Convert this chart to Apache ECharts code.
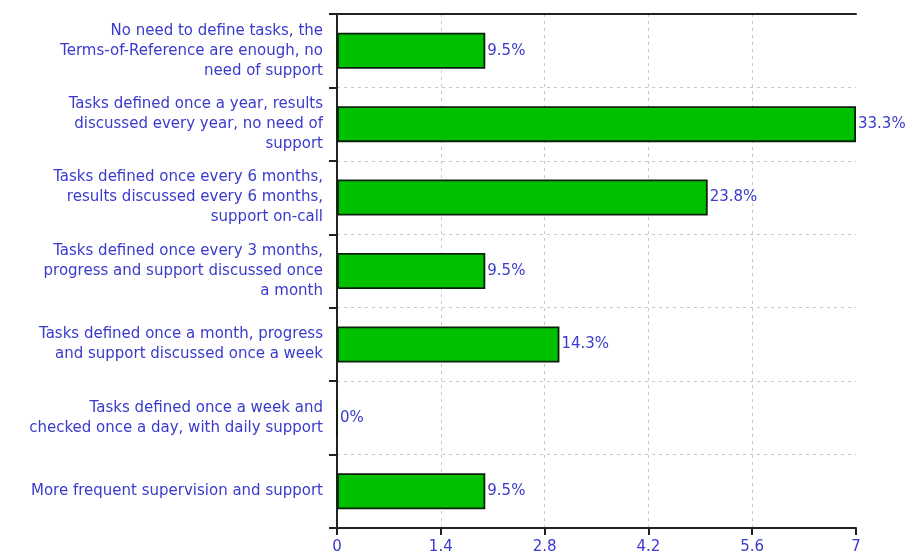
<!DOCTYPE html>
<html>
<head>
<meta charset="utf-8">
<script src="https://cdn.jsdelivr.net/npm/echarts@6/dist/echarts.min.js"></script>
<style>html,body{margin:0;padding:0;background:#fff;}#c{width:910px;height:557px;}</style>
</head>
<body>
<div id="c"></div>
<script>
const categories = [
  "No need to define tasks, the\nTerms-of-Reference are enough, no\nneed of support",
  "Tasks defined once a year, results\ndiscussed every year, no need of\nsupport",
  "Tasks defined once every 6 months,\nresults discussed every 6 months,\nsupport on-call",
  "Tasks defined once every 3 months,\nprogress and support discussed once\na month",
  "Tasks defined once a month, progress\nand support discussed once a week",
  "Tasks defined once a week and\nchecked once a day, with daily support",
  "More frequent supervision and support"
];
const counts = [2, 7, 5, 2, 3, 0, 2];
const percentLabels = ["9.5%", "33.3%", "23.8%", "9.5%", "14.3%", "0%", "9.5%"];
const xTicks = [0, 1.4, 2.8, 4.2, 5.6, 7];

const FONT = "DejaVu Sans";
const BLUE = "#3a3acc";
const chart = echarts.init(document.getElementById('c'));
chart.setOption({
  animation: false,
  backgroundColor: '#fff',
  grid: { left: 337, right: 54, top: 14, bottom: 29 },
  xAxis: [{
    type: 'value', min: xTicks[0], max: xTicks[xTicks.length - 1], interval: 1.4,
    axisLine: { show: true, lineStyle: { color: '#222', width: 2 } },
    axisTick: { show: true, length: 7, lineStyle: { color: '#222', width: 2 } },
    axisLabel: { color: BLUE, fontFamily: FONT, fontSize: 15, margin: 12,
      formatter: v => { const t = xTicks.find(x => Math.abs(x - v) < 1e-6); return t === undefined ? '' : String(t); } },
    splitLine: { show: true, showMinLine: false, showMaxLine: false, lineStyle: { color: '#c8c8c8', type: [3, 4], width: 1 } }
  }, {
    type: 'value', position: 'top', min: xTicks[0], max: xTicks[xTicks.length - 1], interval: 1.4,
    axisLine: { show: true, lineStyle: { color: '#222', width: 2 } },
    axisTick: { show: false }, axisLabel: { show: false }, splitLine: { show: false }
  }],
  yAxis: [{
    type: 'category', data: categories, inverse: true,
    axisLine: { show: true, lineStyle: { color: '#222', width: 2 } },
    axisTick: { show: true, length: 8, lineStyle: { color: '#222', width: 2 } },
    axisLabel: { color: BLUE, fontFamily: FONT, fontSize: 15, lineHeight: 20, margin: 14, align: 'right' },
    splitLine: { show: true, showMinLine: false, showMaxLine: false, lineStyle: { color: '#c8c8c8', type: [3, 4], width: 1 } }
  }, {
    type: 'category', data: categories, inverse: true, position: 'right',
    axisLine: { show: true, lineStyle: { color: '#222', width: 2 } },
    axisTick: { show: false }, axisLabel: { show: false }, splitLine: { show: false }
  }],
  series: [{
    type: 'bar', data: counts, barWidth: 36,
    itemStyle: { color: '#00c000', borderColor: '#0a200a', borderWidth: 1.8 },
    label: { show: true, position: 'right', distance: 2, color: BLUE, fontFamily: FONT, fontSize: 15,
      formatter: p => percentLabels[p.dataIndex] }
  }]
});
</script>
</body>
</html>
